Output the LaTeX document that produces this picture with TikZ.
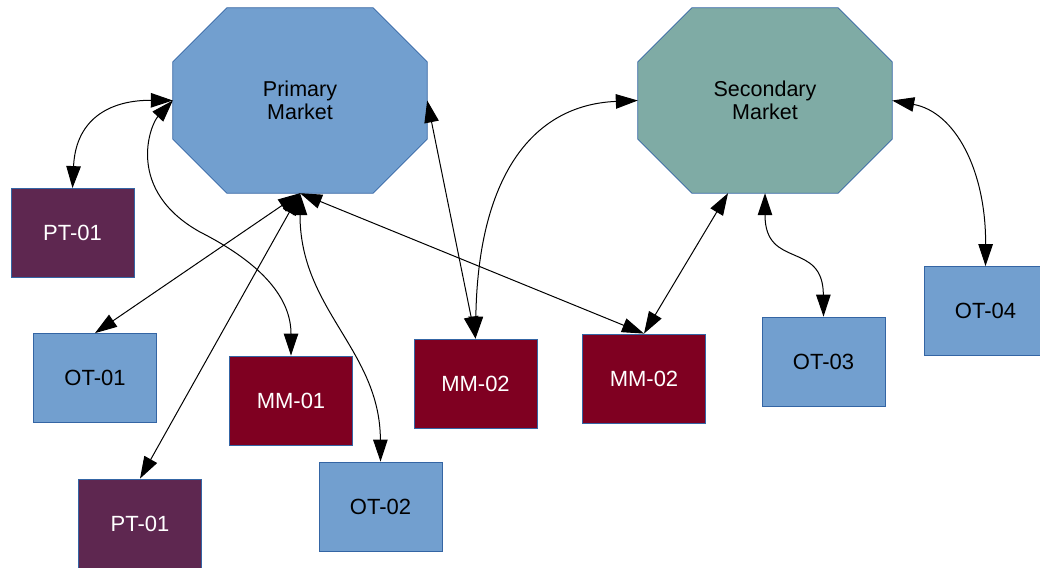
\documentclass[tikz,border=0pt]{standalone}
\usepackage{fontspec}
\setmainfont{Liberation Sans}
\usetikzlibrary{arrows.meta,backgrounds}

\definecolor{edgeblue}{HTML}{3465A4}
\definecolor{skyfill}{HTML}{729FCF}
\definecolor{tealfill}{HTML}{7FABA5}
\definecolor{plumfill}{HTML}{5E2750}
\definecolor{winefill}{HTML}{7F0021}

% octagon with 54pt corner cuts, drawn round the bounding rectangle of a node
\newcommand\marketoctagon[2]{%
  \filldraw[fill=#2, draw=edgeblue, line width=0.8pt]
    ([xshift=54pt]#1.north west) -- ([xshift=-54pt]#1.north east)
    -- ([yshift=-54pt]#1.north east) -- ([yshift=54pt]#1.south east)
    -- ([xshift=-54pt]#1.south east) -- ([xshift=54pt]#1.south west)
    -- ([yshift=54pt]#1.south west) -- ([yshift=-54pt]#1.north west) -- cycle;}

\begin{document}
\begin{tikzpicture}[x=1pt, y=-1pt,
  font=\fontsize{22}{25}\selectfont,
  >={Triangle[length=22pt,width=14.5pt]},
  link/.style={<->, line width=1pt, draw=black},
  market/.style={rectangle, minimum width=254pt, minimum height=185pt,
    inner sep=0pt, align=center, text=black, font=\fontsize{21.5}{23.5}\selectfont},
  unit/.style={rectangle, draw=edgeblue, line width=0.8pt,
    minimum width=123pt, minimum height=89pt, inner sep=0pt},
  trader/.style={unit, fill=skyfill, text=black},
  prop/.style={unit, fill=plumfill, text=white},
  maker/.style={unit, fill=winefill, text=white}]

\useasboundingbox (0,0) rectangle (1040,567);

% markets
\node[market] (prim) at (300,100.5) {Primary\\Market};
\node[market] (sec)  at (765,100.5) {Secondary\\Market};
\begin{scope}[on background layer]
  \marketoctagon{prim}{skyfill}
  \marketoctagon{sec}{tealfill}
\end{scope}

% participants
\node[prop]   (pta) at (72.5,233)   {PT-01};
\node[trader] (ota) at (95,378)     {OT-01};
\node[maker]  (mma) at (291,400.5)  {MM-01};
\node[prop]   (ptb) at (140,523.5)  {PT-01};
\node[trader] (ot2) at (380.5,506.5){OT-02};
\node[maker]  (mmb) at (475.5,383.5){MM-02};
\node[maker]  (mmc) at (644,378.5)  {MM-02};
\node[trader] (ot3) at (823.5,361.5){OT-03};
\node[trader] (ot4) at (985.5,311)  {OT-04};

% links to the primary market
\draw[link] (pta.north) .. controls (76,115) and (115,100) .. (prim.west);
\draw[link] (ota.north) -- (prim.south);
\draw[link] (mma.north) .. controls (291,300) and (265,265) .. (200,232)
                        .. controls (125,190) and (150,125) .. (prim.west);
\draw[link] (ptb.north) -- (prim.south);
\draw[link] (ot2.north) .. controls (380,350) and (300,310) .. (prim.south);
\draw[link] (mmb.north) -- (prim.east);
\draw[link] (mmc.north) -- (prim.south);

% links to the secondary market
\draw[link] (mmb.north) .. controls (478,180) and (530,105) .. (sec.west);
\draw[link] (mmc.north) -- ([xshift=-37pt]sec.south);
\draw[link] (ot3.north) .. controls (823,240) and (765,270) .. (sec.south);
\draw[link] (ot4.north) .. controls (986,170) and (955,112) .. (sec.east);
\end{tikzpicture}
\end{document}
